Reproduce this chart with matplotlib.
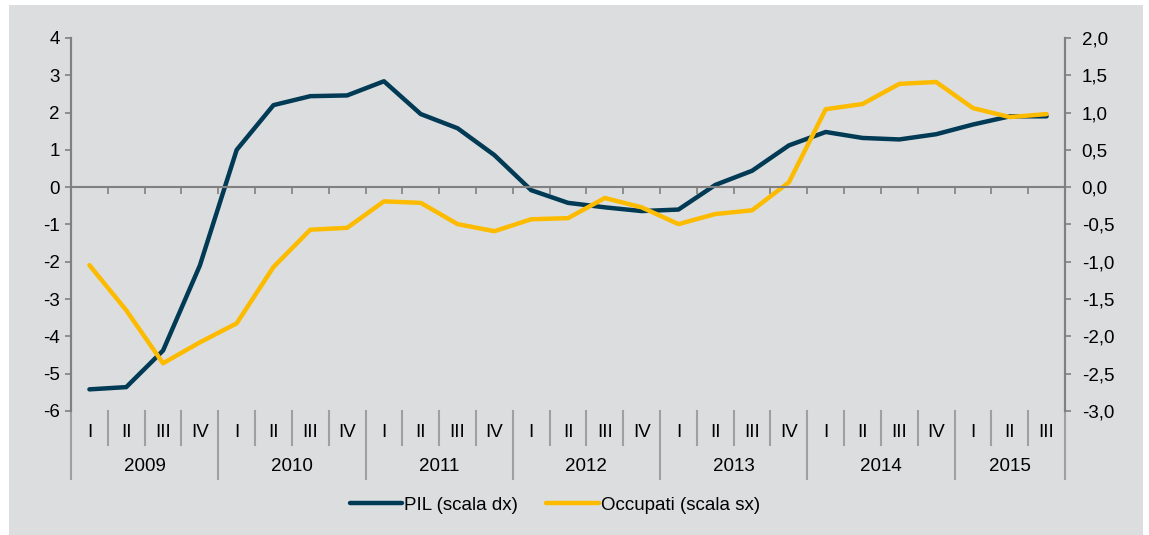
import matplotlib.pyplot as plt
import matplotlib.transforms as mtransforms

plt.rcParams['font.family'] = ['Liberation Sans', 'DejaVu Sans']
plt.rcParams['axes.unicode_minus'] = False

anni = [2009, 2010, 2011, 2012, 2013, 2014, 2015]
trimestri = ['I', 'II', 'III', 'IV']

#
arr_pil = [-2.71, -2.68, -2.19, -1.05,
           0.50, 1.10, 1.22, 1.23,
           1.42, 0.98, 0.79, 0.43,
           -0.04, -0.21, -0.27, -0.32,
           -0.30, 0.03, 0.22, 0.56,
           0.74, 0.66, 0.64, 0.71,
           0.84, 0.95, 0.95]

#
arr_occ = [-2.09, -3.30, -4.72, -4.16,
           -3.65, -2.14, -1.14, -1.09,
           -0.38, -0.42, -0.99, -1.18,
           -0.86, -0.83, -0.29, -0.54,
           -0.99, -0.72, -0.62, 0.13,
           2.09, 2.23, 2.77, 2.82,
           2.12, 1.88, 1.96]

navy = '#003a54'
giallo = '#fdbb00'
grigio = '#808080'
sfondo = '#dcdddf'
fs = 13.5

fig, ax = plt.subplots(figsize=(11.49, 5.35), dpi=100)
fig.patch.set_facecolor('white')
ax2 = ax.twinx()


def draw_background():
    # rettangolo grigio dietro tutto il grafico
    rect = plt.Rectangle((9 / 1149, 0), 1134 / 1149, 530 / 535, transform=fig.transFigure,
                         facecolor=sfondo, edgecolor='none', zorder=-10)
    fig.patches.append(rect)


def draw_graph(arr_x):
    ax2.plot(arr_x, arr_pil, color=navy, linewidth=3.2, solid_capstyle='round', label='PIL (scala dx)')
    ax.plot(arr_x, arr_occ, color=giallo, linewidth=3.2, solid_capstyle='round', label='Occupati (scala sx)')
    ax.set_zorder(ax2.get_zorder() + 1)
    ax.patch.set_visible(False)


def draw_axes(n):
    ax.set_xlim(-0.5, n - 0.5)
    ax.set_ylim(-6, 4)
    ax2.set_ylim(-3, 2)
    ax.set_yticks(range(-6, 5))
    ax2.set_yticks([i / 2 for i in range(-6, 5)])
    ax2.set_yticklabels([('%.1f' % (i / 2)).replace('.', ',') for i in range(-6, 5)])

    for a in (ax, ax2):
        a.spines['top'].set_visible(False)
        a.spines['bottom'].set_visible(False)
        a.spines['left'].set_color(grigio)
        a.spines['right'].set_color(grigio)
        a.spines['left'].set_linewidth(1.5)
        a.spines['right'].set_linewidth(1.5)
        a.tick_params(axis='y', colors=grigio, labelcolor='black', labelsize=fs, length=4, width=1.2)
    ax.tick_params(axis='y', pad=4)
    ax2.tick_params(axis='y', pad=8)

    # asse orizzontale sullo zero con tacche tra i trimestri
    ax.spines['bottom'].set_visible(True)
    ax.spines['bottom'].set_position(('data', 0))
    ax.spines['bottom'].set_color(grigio)
    ax.spines['bottom'].set_linewidth(1.5)
    ax.set_xticks(range(n))
    ax.set_xticklabels([])
    ax.tick_params(axis='x', length=0)
    ax.set_xticks([i + 0.5 for i in range(n - 1)], minor=True)
    ax.tick_params(axis='x', which='minor', direction='out', length=5, width=1.2, color=grigio)


def draw_categories(n):
    trans = mtransforms.blended_transform_factory(ax.transData, ax.transAxes)
    for i in range(n):
        ax.text(i, -0.059, trimestri[i % 4], transform=trans, ha='center', va='center', fontsize=fs)
    for i in range(1, n):
        if i % 4 == 0:
            continue
        ax.plot([i - 0.5, i - 0.5], [0, -0.091], transform=trans, color='#a0a0a0', linewidth=1.5, clip_on=False)
    for k, anno in enumerate(anni):
        x0 = k * 4 - 0.5
        x1 = min(k * 4 + 3.5, n - 0.5)
        ax.plot([x0, x0], [0, -0.182], transform=trans, color='#a0a0a0', linewidth=1.5, clip_on=False)
        ax.text((x0 + x1) / 2, -0.150, str(anno), transform=trans, ha='center', va='center', fontsize=fs)
    ax.plot([n - 0.5, n - 0.5], [0, -0.182], transform=trans, color='#a0a0a0', linewidth=1.5, clip_on=False)


def ex1():
    n = len(arr_pil)
    arr_x = list(range(n))

    draw_background()
    draw_graph(arr_x)
    draw_axes(n)
    draw_categories(n)

    h1, l1 = ax2.get_legend_handles_labels()
    h2, l2 = ax.get_legend_handles_labels()
    fig.legend(h1 + h2, l1 + l2, loc='center', bbox_to_anchor=(0.483, 0.056), ncol=2, frameon=False,
               fontsize=fs, handlelength=2.8, handletextpad=0.12, columnspacing=1.5)

    fig.subplots_adjust(left=0.0618, right=0.9269, bottom=0.2318, top=0.929)
    fig.savefig('out.png', dpi=100)


ex1()
